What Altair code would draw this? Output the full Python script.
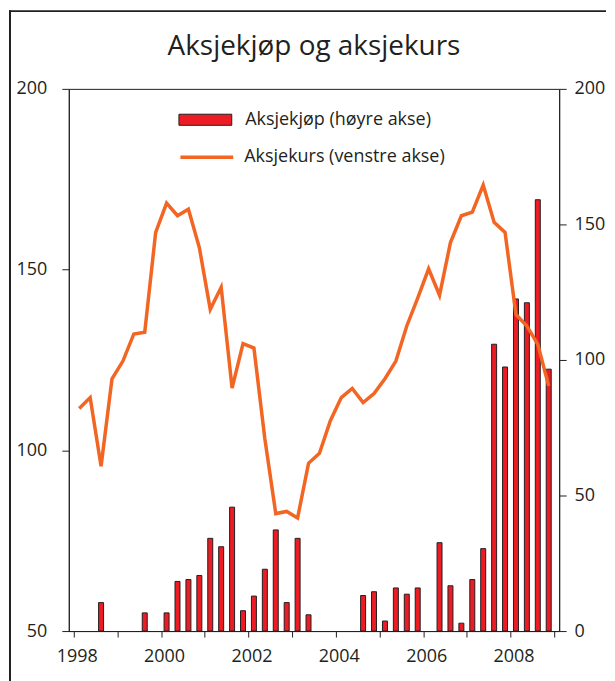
import altair as alt
import pandas as pd

# --- data ---
years = list(range(1998, 2009))
quarters = [1, 2, 3, 4]

# Aksjekurs (left axis), quarterly 1998K1-2008K4
kurs = [111.6, 114.6, 95.6, 119.8,
        124.7, 132.2, 132.7, 160.3,
        168.4, 164.9, 166.7, 156.1,
        139.0, 145.1, 117.2, 129.5,
        128.3, 103.2, 82.5, 83.1,
        81.3, 96.4, 99.2, 108.2,
        114.6, 117.1, 113.2, 115.7,
        119.8, 124.7, 134.4, 142.1,
        150.2, 142.9, 157.5, 164.9,
        165.9, 173.4, 163.1, 160.3,
        137.6, 134.4, 129.3, 117.8]

# Aksjekjøp (right axis), quarterly 1998K1-2008K4
kjop = [0, 0, 10.5, 0,
        0, 0, 6.7, 0,
        6.7, 18.3, 19.0, 20.5,
        34.2, 31.1, 45.7, 7.5,
        12.9, 22.8, 37.3, 10.5,
        34.2, 6.0, 0, 0,
        0, 0, 13.1, 14.5,
        3.7, 15.9, 13.6, 15.9,
        0, 32.6, 16.7, 2.9,
        19.0, 30.4, 105.8, 97.4,
        122.5, 121.1, 159.1, 96.6]

series_names = ["Aksjekjøp (høyre akse)", "Aksjekurs (venstre akse)"]
title_text = "Aksjekjøp og aksjekurs"
x_ticks = list(range(1998, 2010))
left_ticks = [50, 100, 150, 200]
right_ticks = [0, 50, 100, 150, 200]

t = [y + (q - 0.5) / 4 for y in years for q in quarters]
df = pd.DataFrame({"t": t, "kurs": kurs, "kjop": kjop,
                   "s_bar": series_names[0], "s_line": series_names[1]})

FONT = "Open Sans"
TXT = "#231f20"
RED = "#ED1C24"
ORANGE = "#F26522"

W, H = 492, 544

xenc = alt.X("t:Q",
             scale=alt.Scale(domain=[1998, 2009], nice=False, zero=False),
             axis=alt.Axis(values=x_ticks, title=None, grid=False,
                           labelExpr="datum.value % 2 == 0 && datum.value < 2009 ? format(datum.value, 'd') : ''",
                           labelOverlap=False, labelFlush=False, labelOffset=3,
                           tickSize=6, labelPadding=11))

one = pd.DataFrame({"a": [0]})
frame_top = alt.Chart(one).mark_rule(stroke=TXT, strokeWidth=2, strokeCap="square").encode(
    x=alt.value(-59), x2=alt.value(538), y=alt.value(-78))
frame_left = alt.Chart(one).mark_rule(stroke=TXT, strokeWidth=2, strokeCap="square").encode(
    x=alt.value(-59), y=alt.value(-78), y2=alt.value(600))

bars = alt.Chart(df).transform_filter("datum.kjop > 0").mark_bar(
    size=5, stroke=TXT, strokeWidth=1
).encode(
    x=xenc,
    y=alt.Y("kjop:Q", scale=alt.Scale(domain=[0, 200], nice=False),
            axis=alt.Axis(orient="right", values=right_ticks, title=None, grid=False,
                          tickSize=7, labelPadding=8, labelFlush=False)),
    fill=alt.Fill("s_bar:N",
                  scale=alt.Scale(domain=[series_names[0]], range=[RED]),
                  legend=alt.Legend(title=None, orient="none", legendX=110, legendY=4,
                                    symbolType="M-1,-0.21H1V0.21H-1Z", symbolSize=2809,
                                    symbolStrokeColor=TXT, symbolStrokeWidth=1,
                                    symbolOpacity=1, labelLimit=0,
                                    labelFontSize=18, labelFont=FONT, labelColor=TXT,
                                    labelOffset=13, padding=0)),
)

line = alt.Chart(df).mark_line(strokeWidth=3.5, strokeJoin="miter").encode(
    x=xenc,
    y=alt.Y("kurs:Q", scale=alt.Scale(domain=[50, 200], nice=False, zero=False),
            axis=alt.Axis(orient="left", values=left_ticks, title=None, grid=False,
                          tickSize=7, labelPadding=15, labelFlush=False)),
    stroke=alt.Stroke("s_line:N",
                      scale=alt.Scale(domain=[series_names[1]], range=[ORANGE]),
                      legend=alt.Legend(title=None, orient="none", legendX=110, legendY=40,
                                        symbolType="stroke", symbolSize=2809,
                                        symbolStrokeWidth=3.5, labelLimit=0,
                                        labelFontSize=18, labelFont=FONT, labelColor=TXT,
                                        labelOffset=9, padding=0)),
)

chart = alt.layer(frame_top, frame_left, bars, line).resolve_scale(
    y="independent", fill="independent", stroke="independent"
).properties(
    width=W, height=H,
    title=alt.TitleParams(title_text, fontSize=28, font=FONT, fontWeight="normal",
                          color=TXT, offset=-51, anchor="middle", frame="group"),
    padding=0,
).configure_view(
    stroke=TXT, strokeWidth=1
).configure_axis(
    domainColor=TXT, domainWidth=1, tickColor=TXT, tickWidth=1,
    labelFont=FONT, labelFontSize=18, labelColor=TXT
)

chart.save("out.html", embed_options={"renderer": "svg", "actions": False})
